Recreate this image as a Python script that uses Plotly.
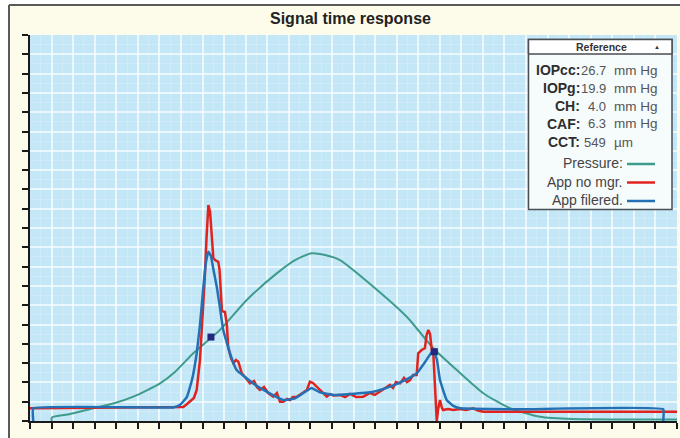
import plotly.graph_objects as go

# ---------------- data ----------------
title_text = "Signal time response"

pressure_x = [1.01, 1.01, 1.85, 2.94, 3.94, 4.79, 6.03, 6.72, 7.57, 8.81, 10.05, 11.44, 12.29, 13.06,
              13.68, 14.37, 15.92, 17.47, 18.70, 19.79, 21.02, 22.26, 23.65, 25.18, 30.0]
pressure_y = [0.0, 0.18, 0.36, 0.66, 0.93, 1.26, 1.95, 2.54, 3.51, 4.72, 6.27, 7.65, 8.34, 8.69,
              8.60, 8.34, 6.96, 5.40, 3.77, 2.64, 1.44, 0.66, 0.22, 0.10, 0.08]

raw_x = [0.0, 6.86, 7.11, 7.28, 7.42, 7.60, 7.73, 7.81, 7.88, 7.95, 8.04, 8.11, 8.18, 8.27, 8.35, 8.43,
         8.50, 8.58, 8.73, 8.79, 8.83, 8.90, 9.04, 9.13, 9.19, 9.32, 9.43, 9.55, 9.66, 9.82, 9.97,
         10.20, 10.39, 10.52, 10.66, 10.85, 11.04, 11.28, 11.45, 11.59, 11.74, 11.92, 12.06, 12.19,
         12.37, 12.52, 12.70, 12.84, 12.98, 13.12, 13.29, 13.49, 13.76, 13.91, 14.06, 14.37, 14.61,
         14.84, 15.12, 15.45, 15.76, 15.99, 16.23, 16.46, 16.69, 16.83, 16.97, 17.16, 17.34, 17.48,
         17.62, 17.76, 17.93, 18.00, 18.16, 18.31, 18.39, 18.47, 18.55, 18.58, 18.64, 18.70, 18.78,
         18.86, 18.92, 19.01, 19.10, 19.16, 19.38, 19.63, 19.94, 20.22, 20.55, 20.77, 21.02, 30.0]
raw_y = [0.66, 0.70, 0.73, 0.88, 1.00, 1.19, 1.61, 2.38, 3.16, 4.46, 6.11, 7.56, 9.38, 11.19, 10.83, 9.38,
         8.45, 8.34, 8.25, 7.82, 6.79, 5.70, 5.65, 4.97, 3.85, 3.26, 2.99, 3.16, 3.07, 2.47, 2.28,
         1.95, 2.07, 1.76, 1.61, 1.76, 1.45, 1.26, 1.45, 1.00, 1.00, 1.14, 1.09, 1.24,
         1.26, 1.35, 1.50, 1.61, 2.04, 1.97, 1.78, 1.61, 1.26, 1.40, 1.32, 1.35, 1.24,
         1.40, 1.24, 1.26, 1.45, 1.35, 1.52, 1.71, 1.87, 1.71, 2.02, 1.95, 2.23, 2.02,
         2.12, 2.38, 2.38, 3.51, 3.68, 3.77, 4.46, 4.72, 4.51, 4.20, 3.58, 3.51, 1.61,
         0.0, 0.57, 1.09, 0.67, 0.57, 0.62, 0.57, 0.62, 0.57, 0.66, 0.54, 0.48, 0.48]

filt_x = [0.15, 0.15, 6.63, 6.95, 7.27, 7.51, 7.73, 7.88, 8.04, 8.16, 8.27, 8.39, 8.51, 8.66, 8.81,
          8.96, 9.27, 9.58, 9.97, 10.35, 10.97, 11.74, 12.29, 12.75, 13.06, 13.45, 14.06, 14.84,
          15.92, 16.69, 17.39, 17.93, 18.32, 18.70, 18.87, 19.01, 19.32, 19.61, 19.94, 22.72,
          29.36, 29.36]
filt_y = [0.0, 0.66, 0.70, 0.83, 1.24, 2.12, 3.51, 4.97, 6.96, 8.24, 8.77, 8.55, 7.82, 6.96, 5.85,
          4.72, 3.51, 2.64, 2.28, 1.95, 1.52, 1.09, 1.17, 1.50, 1.71, 1.48, 1.35, 1.40,
          1.52, 1.78, 2.12, 2.47, 3.06, 3.68, 3.16, 2.12, 1.09, 0.80, 0.66, 0.61,
          0.61, 0.0]

marker_x = [8.39, 18.75]
marker_y = [4.35, 3.59]

ref_labels = ["IOPcc:", "IOPg:", "CH:", "CAF:", "CCT:"]
ref_values = ["26.7", "19.9", "4.0", "6.3", "549"]
ref_units = ["mm Hg", "mm Hg", "mm Hg", "mm Hg", "µm"]
legend_names = ["Pressure:", "App no mgr.", "App filered."]

# ---------------- layout geometry ----------------
W, H = 680, 438
L, R, T, B = 30, 3, 35, 17
PW, PH = W - L - R, H - T - B

def px(xs):  # screen x -> paper x
    return (xs - L) / PW

def py(ys):  # screen y -> paper y
    return (H - B - ys) / PH

C_PRESS = "#3f9c8c"
C_RAW = "#e0231f"
C_FILT = "#2470b4"
FONT = "Liberation Sans, Arial, sans-serif"

fig = go.Figure()
fig.add_trace(go.Scatter(x=pressure_x, y=pressure_y, mode="lines",
                         line=dict(color=C_PRESS, width=2, shape="spline", smoothing=0.6),
                         hoverinfo="skip", showlegend=False))
fig.add_trace(go.Scatter(x=raw_x, y=raw_y, mode="lines",
                         line=dict(color=C_RAW, width=2.5), hoverinfo="skip", showlegend=False))
fig.add_trace(go.Scatter(x=filt_x, y=filt_y, mode="lines",
                         line=dict(color=C_FILT, width=2.5, shape="spline", smoothing=0.3),
                         hoverinfo="skip", showlegend=False))
fig.add_trace(go.Scatter(x=marker_x, y=marker_y, mode="markers",
                         marker=dict(symbol="square", size=7, color="#23287e"),
                         hoverinfo="skip", showlegend=False))

shapes = []
annotations = []

# white outer margin + frame lines
shapes.append(dict(type="rect", xref="paper", yref="paper", x0=px(-5), x1=px(8), y0=py(445), y1=py(-5),
                   fillcolor="white", line=dict(width=0), layer="above"))
shapes.append(dict(type="rect", xref="paper", yref="paper", x0=px(-5), x1=px(690), y0=py(4), y1=py(-5),
                   fillcolor="white", line=dict(width=0), layer="above"))
shapes.append(dict(type="line", xref="paper", yref="paper", x0=px(9), x1=px(700), y0=py(5), y1=py(5),
                   line=dict(color="#5a5a5a", width=2), layer="above"))
shapes.append(dict(type="line", xref="paper", yref="paper", x0=px(9), x1=px(9), y0=py(5), y1=py(460),
                   line=dict(color="#5a5a5a", width=2), layer="above"))

# reference box
bx0, bx1, by0, by1 = 528.5, 672, 39.5, 209.5
shapes.append(dict(type="rect", xref="paper", yref="paper", x0=px(bx0), x1=px(bx1), y0=py(by1), y1=py(by0),
                   fillcolor="#f6fbfc", line=dict(color="#4a4f55", width=1.5), layer="above"))
shapes.append(dict(type="rect", xref="paper", yref="paper", x0=px(bx0), x1=px(bx1), y0=py(54), y1=py(by0),
                   fillcolor="#ffffff", line=dict(color="#4a4f55", width=1.5), layer="above"))

annotations.append(dict(xref="paper", yref="paper", x=px(601), y=py(47), text="<b>Reference</b>",
                        showarrow=False, font=dict(family=FONT, size=10.5, color="#333"),
                        xanchor="center", yanchor="middle"))
annotations.append(dict(xref="paper", yref="paper", x=px(657), y=py(47), text="▲",
                        showarrow=False, font=dict(family=FONT, size=6, color="#333"),
                        xanchor="center", yanchor="middle"))

row_y = [70, 88, 106, 123.5, 142]
for lab, val, unit, ry in zip(ref_labels, ref_values, ref_units, row_y):
    annotations.append(dict(xref="paper", yref="paper", x=px(581), y=py(ry), text="<b>" + lab + "</b>",
                            showarrow=False, font=dict(family=FONT, size=14, color="#2e2e2e"),
                            xanchor="right", yanchor="middle", borderpad=0))
    annotations.append(dict(xref="paper", yref="paper", x=px(607), y=py(ry), text=val,
                            showarrow=False, font=dict(family=FONT, size=13, color="#555"),
                            xanchor="right", yanchor="middle", borderpad=0))
    annotations.append(dict(xref="paper", yref="paper", x=px(613), y=py(ry), text=unit,
                            showarrow=False, font=dict(family=FONT, size=13.5, color="#555"),
                            xanchor="left", yanchor="middle", borderpad=0))

leg_y = [163, 181.5, 200]
leg_c = [C_PRESS, C_RAW, C_FILT]
for name, ly, lc in zip(legend_names, leg_y, leg_c):
    annotations.append(dict(xref="paper", yref="paper", x=px(624), y=py(ly), text=name,
                            showarrow=False, font=dict(family=FONT, size=14, color="#444"),
                            xanchor="right", yanchor="middle", borderpad=0))
    shapes.append(dict(type="line", xref="paper", yref="paper", x0=px(627), x1=px(655), y0=py(ly + 1),
                       y1=py(ly + 1), line=dict(color=lc, width=2.5), layer="above"))

annotations.append(dict(xref="paper", yref="paper", x=px(350), y=py(18), text="<b>" + title_text + "</b>",
                        showarrow=False, font=dict(family=FONT, size=16, color="#222"),
                        xanchor="center", yanchor="middle"))

grid_major = "rgba(255,255,255,0.65)"
grid_minor = "rgba(255,255,255,0.20)"

fig.update_layout(
    width=W, height=H,
    margin=dict(l=L, r=R, t=T, b=B),
    paper_bgcolor="#fdfbea",
    plot_bgcolor="#c3e7f6",
    showlegend=False,
    shapes=shapes,
    annotations=annotations,
    xaxis=dict(range=[0, 30], dtick=1, tick0=0, showticklabels=False, showline=True, linecolor="#1a1a1a",
               linewidth=2, ticks="outside", ticklen=6, tickwidth=2, tickcolor="#1a1a1a",
               showgrid=True, gridcolor=grid_major, gridwidth=1.5, zeroline=False, fixedrange=True,
               minor=dict(dtick=0.5, showgrid=True, gridcolor=grid_minor, gridwidth=1)),
    yaxis=dict(range=[0, 20], dtick=1, tick0=0, showticklabels=False, showline=True, linecolor="#1a1a1a",
               linewidth=2, ticks="outside", ticklen=6, tickwidth=2, tickcolor="#1a1a1a",
               showgrid=True, gridcolor=grid_major, gridwidth=1.5, zeroline=False, fixedrange=True,
               minor=dict(dtick=0.5, showgrid=True, gridcolor=grid_minor, gridwidth=1)),
)

# remove the default 8px page margin so the 680x438 figure fills the window exactly
page_js = ("document.body.style.margin='0';document.body.style.padding='0';"
           "document.documentElement.style.overflow='hidden';")
fig.write_html("out.html", post_script=page_js, config={"displayModeBar": False})
